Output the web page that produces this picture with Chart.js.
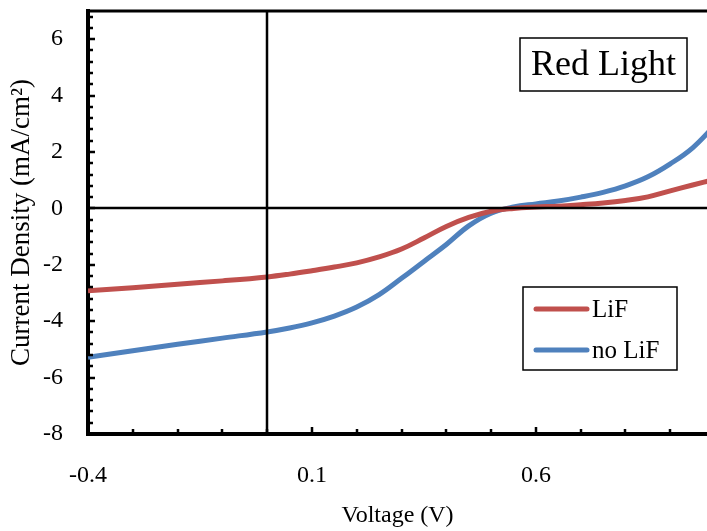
<!DOCTYPE html>
<html>
<head>
<meta charset="utf-8">
<script src="https://cdn.jsdelivr.net/npm/chart.js@4.4.1/dist/chart.umd.min.js"></script>
<style>
  html, body { margin: 0; padding: 0; background: #fff; overflow: hidden; }
  #wrap { width: 707px; height: 531px; position: relative; }
</style>
</head>
<body>
<div id="wrap"><canvas id="jv-chart"></canvas></div>
<script>
// J-V curves under red light
const voltage = [-0.4, -0.3, -0.2, -0.1, 0, 0.05, 0.1, 0.15, 0.2, 0.25, 0.3, 0.35, 0.4, 0.45, 0.5, 0.55, 0.6, 0.65, 0.7, 0.75, 0.8, 0.85, 0.9, 0.95, 1.0];
const lifCurrent = [-2.92, -2.81, -2.69, -2.57, -2.43, -2.33, -2.21, -2.08, -1.93, -1.72, -1.44, -1.05, -0.64, -0.32, -0.1, 0.0, 0.05, 0.08, 0.13, 0.19, 0.28, 0.41, 0.62, 0.83, 1.03];
const noLifCurrent = [-5.28, -5.05, -4.82, -4.6, -4.38, -4.24, -4.06, -3.82, -3.5, -3.06, -2.48, -1.88, -1.28, -0.62, -0.17, 0.05, 0.16, 0.26, 0.4, 0.57, 0.8, 1.12, 1.58, 2.15, 2.95];
const seriesNames = ['LiF', 'no LiF'];
const seriesColors = ['#C0504D', '#4F81BD'];
const xTickLabels = ['-0.4', '0.1', '0.6'];
const yTickLabels = ['-8', '-6', '-4', '-2', '0', '2', '4', '6'];
const boxTitle = 'Red Light';

const serif = "'Liberation Serif', 'Times New Roman', serif";
Chart.defaults.font.family = serif;
Chart.defaults.color = '#000';

function pickLabel(list, value) {
  const hit = list.find(t => Math.abs(parseFloat(t) - value) < 1e-6);
  return hit === undefined ? '' : hit;
}

function noPadding(scale) {
  scale.paddingTop = 0;
  scale.paddingRight = 0;
  scale.paddingBottom = 0;
  scale.paddingLeft = 0;
}

// inside tick marks, zero lines, frame top, title box and legend
const decorations = {
  id: 'decorations',
  afterDatasetsDraw(chart) {
    const { ctx, chartArea: a, scales: { x, y } } = chart;
    ctx.save();
    ctx.strokeStyle = '#000';

    // zero lines
    ctx.lineWidth = 2.5;
    ctx.beginPath();
    const x0 = Math.round(x.getPixelForValue(0));
    ctx.moveTo(x0, a.top); ctx.lineTo(x0, a.bottom);
    const y0 = Math.round(y.getPixelForValue(0));
    ctx.moveTo(a.left, y0); ctx.lineTo(a.right, y0);
    ctx.stroke();

    // top frame
    ctx.lineWidth = 3;
    ctx.beginPath();
    ctx.moveTo(a.left, a.top); ctx.lineTo(a.right, a.top);
    ctx.stroke();

    // x ticks every 0.1, major every 0.5
    ctx.lineWidth = 2.5;
    ctx.beginPath();
    for (let i = 0; ; i++) {
      const v = x.min + i * 0.1;
      if (v > x.max + 1e-9) break;
      const px = Math.round(x.getPixelForValue(v));
      const len = i % 5 === 0 ? 7 : 5;
      ctx.moveTo(px, a.bottom); ctx.lineTo(px, a.bottom - len);
    }
    // y ticks every 0.4, major every 2
    for (let i = 0; ; i++) {
      const v = y.min + i * 0.4;
      if (v > y.max + 1e-9) break;
      const py = Math.round(y.getPixelForValue(v));
      const len = i % 5 === 0 ? 7 : 5;
      ctx.moveTo(a.left, py); ctx.lineTo(a.left + len, py);
    }
    ctx.stroke();

    // title box
    ctx.lineWidth = 1.5;
    ctx.fillStyle = '#fff';
    ctx.fillRect(520, 38, 167, 53);
    ctx.strokeRect(520, 38, 167, 53);
    ctx.fillStyle = '#000';
    ctx.font = '36px ' + serif;
    ctx.textAlign = 'center';
    ctx.textBaseline = 'middle';
    ctx.fillText(boxTitle, 603.5, 66);

    // legend box
    ctx.fillStyle = '#fff';
    ctx.fillRect(523, 287, 154, 83);
    ctx.strokeRect(523, 287, 154, 83);
    ctx.font = '25px ' + serif;
    ctx.textAlign = 'left';
    chart.data.datasets.forEach((ds, i) => {
      const ly = 309 + i * 41;
      ctx.strokeStyle = ds.borderColor;
      ctx.lineWidth = 5;
      ctx.lineCap = 'round';
      ctx.beginPath();
      ctx.moveTo(536, ly); ctx.lineTo(587, ly);
      ctx.stroke();
      ctx.fillStyle = '#000';
      ctx.fillText(ds.label, 592, ly + 1);
    });
    ctx.restore();
  }
};

new Chart(document.getElementById('jv-chart'), {
  type: 'line',
  data: {
    labels: voltage,
    datasets: [
      {
        label: seriesNames[0],
        data: voltage.map((v, i) => ({ x: v, y: lifCurrent[i] })),
        borderColor: seriesColors[0],
        borderWidth: 5,
        pointRadius: 0,
        tension: 0.4
      },
      {
        label: seriesNames[1],
        data: voltage.map((v, i) => ({ x: v, y: noLifCurrent[i] })),
        borderColor: seriesColors[1],
        borderWidth: 5,
        pointRadius: 0,
        tension: 0.4
      }
    ]
  },
  options: {
    responsive: true,
    maintainAspectRatio: false,
    animation: false,
    layout: { padding: { top: 11, right: 0, bottom: 0, left: 0 } },
    plugins: { legend: { display: false }, tooltip: { enabled: false } },
    scales: {
      x: {
        type: 'linear',
        min: -0.4,
        max: 0.982,
        afterFit(scale) { scale.height = 97; noPadding(scale); },
        grid: { display: false, drawTicks: false },
        border: { display: true, color: '#000', width: 4 },
        ticks: {
          stepSize: 0.1,
          padding: 27,
          autoSkip: false,
          maxRotation: 0,
          font: { size: 24 },
          callback: value => pickLabel(xTickLabels, value)
        },
        title: {
          display: true,
          text: 'Voltage (V)',
          font: { size: 24 },
          padding: { top: 0, bottom: 1 }
        }
      },
      y: {
        min: -8,
        max: 7,
        afterFit(scale) { scale.width = 88; noPadding(scale); },
        grid: { display: false, drawTicks: false },
        border: { display: true, color: '#000', width: 4 },
        ticks: {
          stepSize: 2,
          padding: 25,
          autoSkip: false,
          font: { size: 24 },
          callback: value => pickLabel(yTickLabels, value)
        },
        title: {
          display: true,
          text: 'Current Density (mA/cm\u00B2)',
          font: { size: 27 },
          padding: { top: 6, bottom: 0 }
        }
      }
    }
  },
  plugins: [decorations]
});
</script>
</body>
</html>
